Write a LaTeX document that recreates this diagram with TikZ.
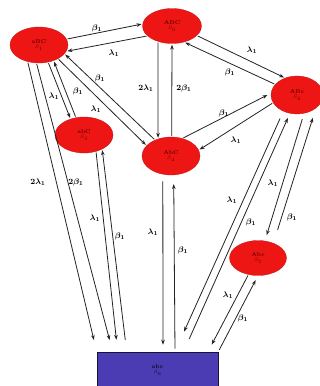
\documentclass[tikz,border=0pt]{standalone}
\usetikzlibrary{arrows.meta,shapes.geometric}
\definecolor{statered}{RGB}{238,22,20}
\definecolor{absorb}{RGB}{76,60,180}
\definecolor{wire}{RGB}{35,35,35}
\tikzset{
  state/.style={ellipse, fill=statered, draw=statered!80!black, line width=0.3pt,
    inner sep=0pt, align=center, text=black!60!red,
    font=\fontsize{5.5}{5.5}\selectfont\bfseries},
  sink/.style={rectangle, fill=absorb, draw=black!70!absorb, line width=0.6pt,
    inner sep=0pt, align=center, text=black!85!absorb,
    font=\fontsize{5.5}{5.5}\selectfont\bfseries,
    minimum width=121pt, minimum height=36pt},
  rate/.style={draw=wire, line width=0.8pt,
    -{Stealth[length=5pt,width=3.6pt]}, shorten <=1pt, shorten >=1pt},
  lab/.style={inner sep=0pt, font=\fontsize{8.5}{9}\selectfont\boldmath}
}
\begin{document}
\begin{tikzpicture}[x=1pt,y=-1pt]
\path[use as bounding box, fill=white] (0,0) rectangle (320,386);
\clip (0,0) rectangle (320,386);

% states
\node[state, minimum width=58pt, minimum height=36pt] (n1) at (39,45)  {aBC\\$S_1$};
\node[state, minimum width=59pt, minimum height=35pt] (n2) at (172,26) {ABC\\$S_0$};
\node[state, minimum width=52pt, minimum height=38pt] (n3) at (297,95) {ABc\\$S_2$};
\node[state, minimum width=58pt, minimum height=36pt] (n4) at (84,135) {abC\\$S_3$};
\node[state, minimum width=58pt, minimum height=38pt] (n5) at (171,156) {AbC\\$S_4$};
\node[state, minimum width=57pt, minimum height=35pt] (n6) at (258,258) {Abc\\$S_5$};
\node[sink] (s6) at (157.5,370) {abc\\$S_6$};

% S1 <-> S0
\draw[rate] (n1.12) -- (n2.176);
\draw[rate] (n2.202) -- (n1.347);
% S0 <-> S2
\draw[rate] (n2.339) -- (n3.125);
\draw[rate] (n3.154) -- (n2.307);
% S0 <-> S4
\draw[rate] (n2.228) -- (n5.127);
\draw[rate] (n5.88) -- (n2.270);
% S1 <-> S4
\draw[rate] (n5.135) -- (n1.341);
\draw[rate] (n1.324) -- (n5.157);
% S1 <-> S3
\draw[rate] (n1.298) -- (n4.130);
\draw[rate] (n4.115) -- (n1.313);
% S1 -> S6
\draw[rate, shorten >=12pt] (n1.236) -- (s6.north west);
\draw[rate, shorten >=12pt] (n1.262) -- ([xshift=16pt]s6.north west);
% S3 <-> S6
\draw[rate, shorten >=12pt] (n4.306) -- ([xshift=21pt]s6.north west);
\draw[rate, shorten <=12pt] ([xshift=30pt]s6.north west) -- (n4.322);
% S4 <-> S6
\draw[rate, shorten <=7pt, shorten >=7pt] (n5.246) -- ([xshift=5.5pt]s6.north);
\draw[rate, shorten <=3pt, shorten >=9pt] ([xshift=17.5pt]s6.north) -- (n5.278);
% S4 <-> S2
\draw[rate, shorten >=4pt] (n5.57) -- (n3.176);
\draw[rate] (n3.198) -- (n5.12);
% S2 <-> S6
\draw[rate, shorten <=8pt, shorten >=22pt] (n3.230) -- ([xshift=17.5pt]s6.north);
\draw[rate, shorten <=14pt, shorten >=5pt] ([xshift=26pt]s6.north) -- (n3.249);
% S2 <-> S5
\draw[rate, shorten <=6pt, shorten >=6pt] (n3.291) -- (n6.68);
\draw[rate, shorten <=14pt, shorten >=10pt] (n6.44) -- (n3.325);
% S5 <-> S6
\draw[rate, shorten >=8pt] (n6.240) -- ([xshift=50.5pt]s6.north);
\draw[rate, shorten <=2pt, shorten >=5pt] (s6.north east) -- (n6.270);

% rate labels
\node[lab] (l1)  at (97,28)   {$\beta_1$};
\node[lab] (l2)  at (114,53)  {$\lambda_1$};
\node[lab] (l3)  at (252,50)  {$\lambda_1$};
\node[lab] (l4)  at (230,72)  {$\beta_1$};
\node[lab] (l5)  at (146,88)  {$2\lambda_1$};
\node[lab] (l6)  at (184,88)  {$2\beta_1$};
\node[lab] (l7)  at (100,78)  {$\beta_1$};
\node[lab] (l8)  at (96,109)  {$\lambda_1$};
\node[lab] (l9)  at (54,96)   {$\lambda_1$};
\node[lab] (l10) at (78,91)   {$\beta_1$};
\node[lab] (l11) at (38,182)  {$2\lambda_1$};
\node[lab] (l12) at (76,182)  {$2\beta_1$};
\node[lab] (l13) at (95,218)  {$\lambda_1$};
\node[lab] (l14) at (120,236) {$\beta_1$};
\node[lab] (l15) at (153,232) {$\lambda_1$};
\node[lab] (l16) at (183,250) {$\beta_1$};
\node[lab] (l17) at (224,113) {$\beta_1$};
\node[lab] (l18) at (236,140) {$\lambda_1$};
\node[lab] (l19) at (232,200) {$\lambda_1$};
\node[lab] (l20) at (251,222) {$\beta_1$};
\node[lab] (l21) at (273,183) {$\lambda_1$};
\node[lab] (l22) at (292,217) {$\beta_1$};
\node[lab] (l23) at (228,295) {$\lambda_1$};
\node[lab] (l24) at (243,318) {$\beta_1$};
\end{tikzpicture}
\end{document}
